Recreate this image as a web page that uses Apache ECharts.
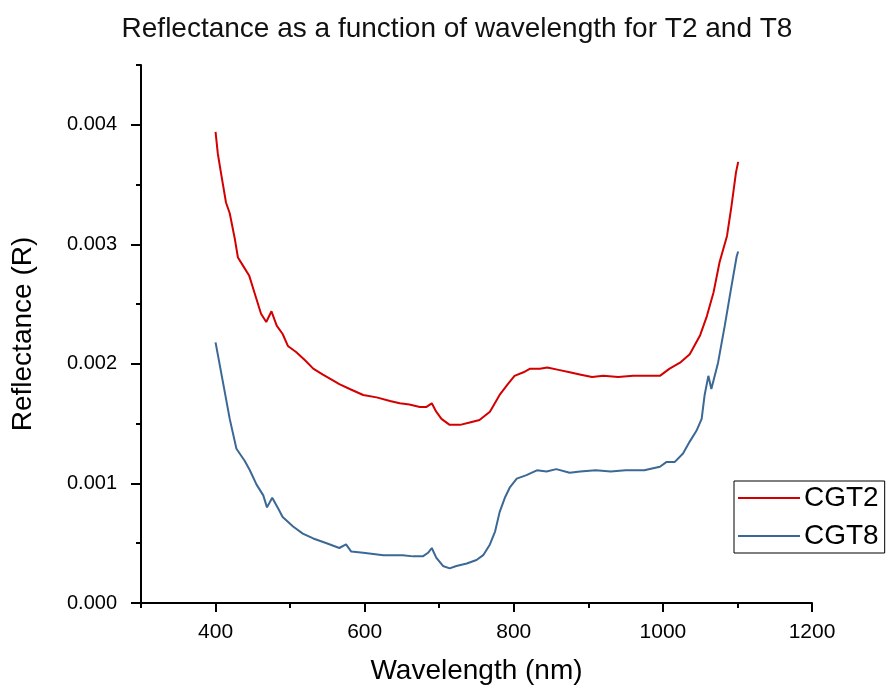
<!DOCTYPE html>
<html>
<head>
<meta charset="utf-8">
<script src="https://cdn.jsdelivr.net/npm/echarts@6/dist/echarts.min.js"></script>
<style>
html,body{margin:0;padding:0;background:#fff;}
#chart{width:888px;height:690px;}
</style>
</head>
<body>
<div id="chart"></div>
<script>
// ---- data ----
var titleText = 'Reflectance as a function of wavelength for T2 and T8';
var seriesNames = ['CGT2', 'CGT8'];
var xMajorTicks = [400, 600, 800, 1000, 1200];
var xMinorTicks = [300, 500, 700, 900, 1100];
var yMajorTicks = [0, 0.001, 0.002, 0.003, 0.004];
var yMinorTicks = [0.0005, 0.0015, 0.0025, 0.0035, 0.0045];

var wl2 = [400,403,408,414,419,426,430,437,445,454,461,468,475,482,490,497,508,520,531,544,558,566,580,598,616,634,647,660,674,683,690,696,703,714,728,741,754,768,781,792,801,813,822,835,845,860,875,890,905,920,940,960,980,996,1009,1023,1036,1050,1059,1068,1076,1086,1092,1098,1101];
var r2 = [0.00394,0.00376,0.00357,0.00335,0.00326,0.00304,0.00289,0.00282,0.00274,0.00256,0.00242,0.00235,0.00244,0.00232,0.00225,0.00215,0.00210,0.00203,0.00196,0.00191,0.00186,0.00183,0.00179,0.00174,0.00172,0.00169,0.00167,0.00166,0.00164,0.00164,0.00167,0.00160,0.00154,0.00149,0.00149,0.00151,0.00153,0.00160,0.00174,0.00183,0.00190,0.00193,0.00196,0.00196,0.00197,0.00195,0.00193,0.00191,0.00189,0.00190,0.00189,0.00190,0.00190,0.00190,0.00196,0.00201,0.00208,0.00224,0.00240,0.00260,0.00285,0.00307,0.00332,0.00360,0.00369];

var wl8 = [400,414,419,428,439,446,455,464,469,476,484,490,504,517,531,549,566,575,582,598,625,651,665,678,685,690,696,705,714,723,737,750,759,768,775,781,788,795,804,817,831,844,857,875,889,910,930,950,975,996,1005,1016,1027,1036,1045,1052,1056,1061,1065,1074,1083,1092,1099,1101];
var r8 = [0.00218,0.00171,0.00154,0.00129,0.00119,0.00111,0.00099,0.00090,0.00080,0.00088,0.00079,0.00072,0.00064,0.00058,0.00054,0.00050,0.00046,0.00049,0.00043,0.00042,0.00040,0.00040,0.00039,0.00039,0.00042,0.00046,0.00038,0.00031,0.00029,0.00031,0.00033,0.00036,0.00040,0.00049,0.00060,0.00076,0.00088,0.00097,0.00104,0.00107,0.00111,0.00110,0.00112,0.00109,0.00110,0.00111,0.00110,0.00111,0.00111,0.00114,0.00118,0.00118,0.00125,0.00135,0.00144,0.00154,0.00174,0.00190,0.00179,0.00201,0.00232,0.00265,0.00290,0.00294];

function pairs(xs, ys) { return xs.map(function (x, i) { return [x, ys[i]]; }); }

var FONT = '"Liberation Sans", Arial, sans-serif';
var chart = echarts.init(document.getElementById('chart'), null, {renderer: 'canvas'});
var axisLine = {show: true, lineStyle: {color: '#000', width: 2}};

var option = {
  animation: false,
  backgroundColor: '#fff',
  textStyle: {fontFamily: FONT},
  title: {
    text: titleText,
    left: 452, top: 10, textAlign: 'center',
    textStyle: {fontFamily: FONT, fontSize: 28, fontWeight: 'normal', color: '#111'}
  },
  legend: {
    orient: 'vertical',
    left: 734, top: 481,
    icon: 'rect',
    itemWidth: 62, itemHeight: 2, itemGap: 10,
    padding: [3, 6, 3, 4],
    borderColor: '#000', borderWidth: 1,
    textStyle: {fontFamily: FONT, fontSize: 28, color: '#000', padding: [0, 0, 0, -1]},
    data: seriesNames
  },
  grid: {left: 141, right: 76, top: 65, bottom: 85, containLabel: false},
  xAxis: [{
    type: 'value', min: 300, max: 1200, interval: 100,
    name: 'Wavelength (nm)', nameLocation: 'middle', nameGap: 54,
    nameTextStyle: {fontFamily: FONT, fontSize: 28, color: '#000'},
    axisLine: axisLine,
    axisTick: {show: true, customValues: xMajorTicks, length: 9, lineStyle: {color: '#000', width: 2}},
    axisLabel: {customValues: xMajorTicks, margin: 19, fontFamily: FONT, fontSize: 21, color: '#000',
      formatter: function (v) { return String(v); }},
    splitLine: {show: false}
  }, {
    type: 'value', min: 300, max: 1200, interval: 100, position: 'bottom',
    axisLine: {show: false},
    axisTick: {show: true, customValues: xMinorTicks, length: 5, lineStyle: {color: '#000', width: 2}},
    axisLabel: {show: false},
    splitLine: {show: false}
  }],
  yAxis: [{
    type: 'value', min: 0, max: 0.0045, interval: 0.0005,
    name: 'Reflectance (R)', nameLocation: 'middle', nameGap: 104,
    nameTextStyle: {fontFamily: FONT, fontSize: 28, color: '#000'},
    axisLine: axisLine,
    axisTick: {show: true, customValues: yMajorTicks, length: 10, lineStyle: {color: '#000', width: 2}},
    axisLabel: {customValues: yMajorTicks, margin: 24, fontFamily: FONT, fontSize: 20, color: '#000',
      formatter: function (v) { return v.toFixed(3); }},
    splitLine: {show: false}
  }, {
    type: 'value', min: 0, max: 0.0045, interval: 0.0005, position: 'left',
    axisLine: {show: false},
    axisTick: {show: true, customValues: yMinorTicks, length: 5, lineStyle: {color: '#000', width: 2}},
    axisLabel: {show: false},
    splitLine: {show: false}
  }],
  series: [{
    name: seriesNames[0], type: 'line', symbol: 'none', xAxisIndex: 0, yAxisIndex: 0,
    lineStyle: {color: '#d40000', width: 2}, itemStyle: {color: '#d40000'},
    data: pairs(wl2, r2)
  }, {
    name: seriesNames[1], type: 'line', symbol: 'none', xAxisIndex: 0, yAxisIndex: 0,
    lineStyle: {color: '#3b6894', width: 2}, itemStyle: {color: '#3b6894'},
    data: pairs(wl8, r8)
  }]
};
chart.setOption(option);
</script>
</body>
</html>
